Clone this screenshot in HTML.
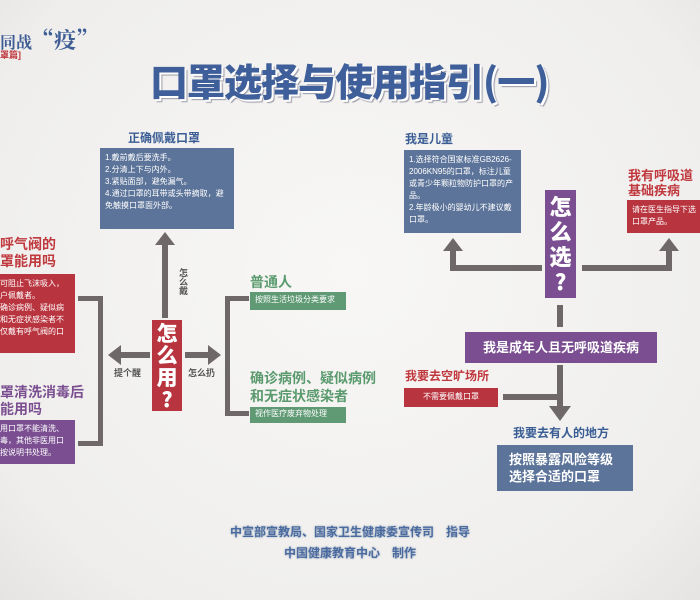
<!DOCTYPE html>
<html><head><meta charset="utf-8"><style>
body{margin:0;width:700px;height:600px;overflow:hidden;background:radial-gradient(ellipse at 50% 45%,#f8f7f5 0%,#efeeec 80%,#e6e4e2 100%);font-family:"Liberation Sans","Noto Sans CJK SC",sans-serif;position:relative}
.a{position:absolute}
.box{position:absolute;color:#fff;font-size:8px;line-height:12px;padding:4px 5px;box-sizing:border-box}
.g{background:#6f6868;position:absolute}
.v{writing-mode:vertical-rl;text-orientation:upright}
.tri{position:absolute;width:0;height:0}
.stack{position:absolute;color:#fff;font-weight:900;text-align:center;font-family:"Noto Sans CJK SC",sans-serif}
</style></head><body>
<div class="a" style="left:0;top:24px;font-size:16px;font-weight:bold;color:#3e5d95;font-family:'Noto Serif CJK SC',serif">同战<span style="font-size:22px">“疫”</span></div>
<div class="a" style="left:0;top:48px;font-size:9px;font-weight:bold;color:#c0393f">罩篇]</div>
<div class="a" style="left:150px;top:52px;font-size:38px;font-weight:900;color:#3f5f9a;letter-spacing:-1px;text-shadow:2px 2px 0 #fff,3px 3px 1px #9a9aa8;font-family:'Noto Sans CJK SC',sans-serif">口罩选择与使用指引(一)</div>

<div class="a" style="left:128px;top:129px;font-size:12px;font-weight:bold;color:#3a5d95">正确佩戴口罩</div>
<div class="box" style="left:100px;top:148px;width:134px;height:81px;background:#5c7499">1.戴前戴后要洗手。<br>2.分清上下与内外。<br>3.紧贴面部，避免漏气。<br>4.通过口罩的耳带或头带摘取，避免触摸口罩面外部。</div>
<div class="g" style="left:162px;top:243px;width:6px;height:75px"></div>
<div class="tri" style="left:155px;top:232px;border-left:10px solid transparent;border-right:10px solid transparent;border-bottom:13px solid #6f6868"></div>
<div class="a v" style="left:177px;top:268px;font-size:9px;color:#555;font-weight:bold">怎么戴</div>
<div class="stack" style="left:152px;top:320px;width:30px;height:91px;background:#b8343f;font-size:21px;line-height:22px;padding-top:2px;box-sizing:border-box">怎<br>么<br>用<br>?</div>
<div class="g" style="left:120px;top:352px;width:30px;height:6px"></div>
<div class="tri" style="left:108px;top:345px;border-top:10px solid transparent;border-bottom:10px solid transparent;border-right:13px solid #6f6868"></div>
<div class="g" style="left:185px;top:352px;width:25px;height:6px"></div>
<div class="tri" style="left:208px;top:345px;border-top:10px solid transparent;border-bottom:10px solid transparent;border-left:13px solid #6f6868"></div>
<div class="a" style="left:114px;top:366px;font-size:9px;font-weight:bold;color:#555">提个醒</div>
<div class="a" style="left:188px;top:366px;font-size:9px;font-weight:bold;color:#555">怎么扔</div>
<div class="g" style="left:78px;top:296px;width:25px;height:5px"></div>
<div class="g" style="left:98px;top:296px;width:5px;height:150px"></div>
<div class="g" style="left:78px;top:441px;width:25px;height:5px"></div>
<div class="a" style="left:0;top:236px;font-size:14px;font-weight:bold;color:#c0393f;line-height:17px">呼气阀的<br>罩能用吗</div>
<div class="box" style="left:0;top:274px;width:75px;height:79px;background:#b8343f;padding-left:0">可阻止飞沫吸入，<br>户佩戴者。<br>确诊病例、疑似病<br>和无症状感染者不<br>仅戴有呼气阀的口</div>
<div class="a" style="left:0;top:384px;font-size:14px;font-weight:bold;color:#7a4e90;line-height:17px">罩清洗消毒后<br>能用吗</div>
<div class="box" style="left:0;top:420px;width:75px;height:44px;background:#7a4e90;padding:3px 0">用口罩不能清洗、<br>毒，其他非医用口<br>按说明书处理。</div>
<div class="g" style="left:225px;top:296px;width:24px;height:5px"></div>
<div class="g" style="left:225px;top:296px;width:5px;height:120px"></div>
<div class="g" style="left:225px;top:411px;width:24px;height:5px"></div>
<div class="a" style="left:250px;top:272px;font-size:14px;font-weight:bold;color:#5a9a6e">普通人</div>
<div class="box" style="left:250px;top:292px;width:96px;height:18px;background:#5f9a74;padding:2px 5px">按照生活垃圾分类要求</div>
<div class="a" style="left:250px;top:369px;font-size:14px;font-weight:bold;color:#5a9a6e;line-height:18px">确诊病例、疑似病例<br>和无症状感染者</div>
<div class="box" style="left:250px;top:407px;width:96px;height:16px;background:#5f9a74;padding:1px 5px">视作医疗废弃物处理</div>

<div class="a" style="left:405px;top:130px;font-size:12px;font-weight:bold;color:#3a5d95">我是儿童</div>
<div class="box" style="left:404px;top:150px;width:117px;height:83px;background:#5c7499">1.选择符合国家标准GB2626-2006KN95的口罩，标注儿童或青少年颗粒物防护口罩的产品。<br>2.年龄极小的婴幼儿不建议戴口罩。</div>
<div class="stack" style="left:545px;top:190px;width:31px;height:108px;background:#7a4e90;font-size:22px;line-height:25px;padding-top:4px;box-sizing:border-box">怎<br>么<br>选<br>?</div>
<div class="g" style="left:450px;top:265px;width:92px;height:6px"></div>
<div class="g" style="left:450px;top:250px;width:6px;height:20px"></div>
<div class="tri" style="left:443px;top:238px;border-left:10px solid transparent;border-right:10px solid transparent;border-bottom:13px solid #6f6868"></div>
<div class="g" style="left:582px;top:265px;width:90px;height:6px"></div>
<div class="g" style="left:666px;top:250px;width:6px;height:20px"></div>
<div class="tri" style="left:659px;top:238px;border-left:10px solid transparent;border-right:10px solid transparent;border-bottom:13px solid #6f6868"></div>
<div class="a" style="left:628px;top:168px;font-size:13px;font-weight:bold;color:#c0393f;line-height:15px">我有呼吸道<br>基础疾病</div>
<div class="box" style="left:627px;top:200px;width:80px;height:33px;background:#b8343f">请在医生指导下选<br>口罩产品。</div>
<div class="g" style="left:557px;top:305px;width:6px;height:22px"></div>
<div class="a" style="left:465px;top:332px;width:192px;height:31px;background:#7a4e90;color:#fff;font-size:13px;font-weight:bold;line-height:31px;text-align:center">我是成年人且无呼吸道疾病</div>
<div class="g" style="left:557px;top:365px;width:6px;height:43px"></div>
<div class="g" style="left:503px;top:394px;width:57px;height:6px"></div>
<div class="tri" style="left:549px;top:406px;border-left:11px solid transparent;border-right:11px solid transparent;border-top:15px solid #6f6868"></div>
<div class="a" style="left:405px;top:367px;font-size:12px;font-weight:bold;color:#c0393f">我要去空旷场所</div>
<div class="box" style="left:404px;top:388px;width:94px;height:19px;background:#b8343f;padding:3px 0;text-align:center">不需要佩戴口罩</div>
<div class="a" style="left:513px;top:424px;font-size:12px;font-weight:bold;color:#3a5d95">我要去有人的地方</div>
<div class="box" style="left:497px;top:445px;width:136px;height:46px;background:#5c7499;font-size:13px;font-weight:bold;line-height:17px;padding:6px 12px">按照暴露风险等级<br>选择合适的口罩</div>

<div class="a" style="left:0;width:700px;top:522px;text-align:center;font-size:12px;font-weight:bold;color:#4a6aa0;line-height:21px;text-shadow:0 0 2px #9ab">中宣部宣教局、国家卫生健康委宣传司　指导<br>中国健康教育中心　制作</div>
</body></html>
